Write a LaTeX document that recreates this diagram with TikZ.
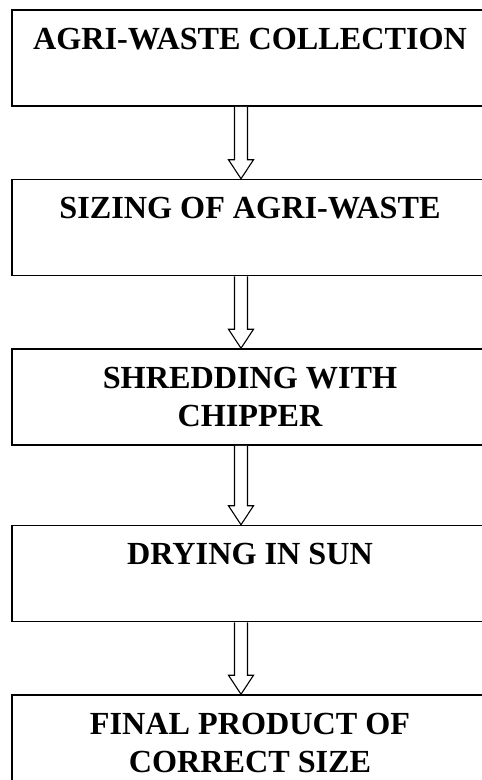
\documentclass[tikz,border=0pt]{standalone}
\usepackage{fontspec}
\setmainfont{Liberation Serif}
\usepackage{tikz}
\usetikzlibrary{positioning, calc}
\tikzstyle{stage} = [rectangle, draw, line width=1.5pt, minimum width=476pt, minimum height=96pt, inner sep=0pt, align=center, font=\bfseries\fontsize{32.2}{38.5}\selectfont, execute at begin node=\rule{0pt}{26pt}]
\tikzstyle{hollow} = [draw, line width=1.1pt, line join=miter, fill=white]
% hollow block arrow from the bottom of #1 to the top of #2
\newcommand{\hollowarrow}[2]{%
  \draw[hollow] ($(#1.south)+(-15.5,0)$) -- ($(#2.north)+(-15.5,19)$) -- ($(#2.north)+(-21.5,19)$)
    -- ($(#2.north)+(-9,0)$) -- ($(#2.north)+(3.5,19)$) -- ($(#2.north)+(-2.5,19)$) -- ($(#1.south)+(-2.5,0)$);}

\begin{document}
\begin{tikzpicture}[x=1pt, y=1pt, node distance=72pt]
    \useasboundingbox (0,0) rectangle (482,-780);
    % Stages
    \node (collect) [stage] at (250,-58) {AGRI-WASTE COLLECTION\\\mbox{}};
    \node (sizing) [stage, below=of collect] {SIZING OF AGRI-WASTE\\\mbox{}};
    \node (shred) [stage, below=of sizing] {SHREDDING WITH\\CHIPPER};
    \node (dry) [stage, below=79pt of shred] {DRYING IN SUN\\\mbox{}};
    \node (final) [stage, below=of dry] {FINAL PRODUCT OF\\CORRECT SIZE};

    % Arrows
    \hollowarrow{collect}{sizing}
    \hollowarrow{sizing}{shred}
    \hollowarrow{shred}{dry}
    \hollowarrow{dry}{final}
\end{tikzpicture}
\end{document}
